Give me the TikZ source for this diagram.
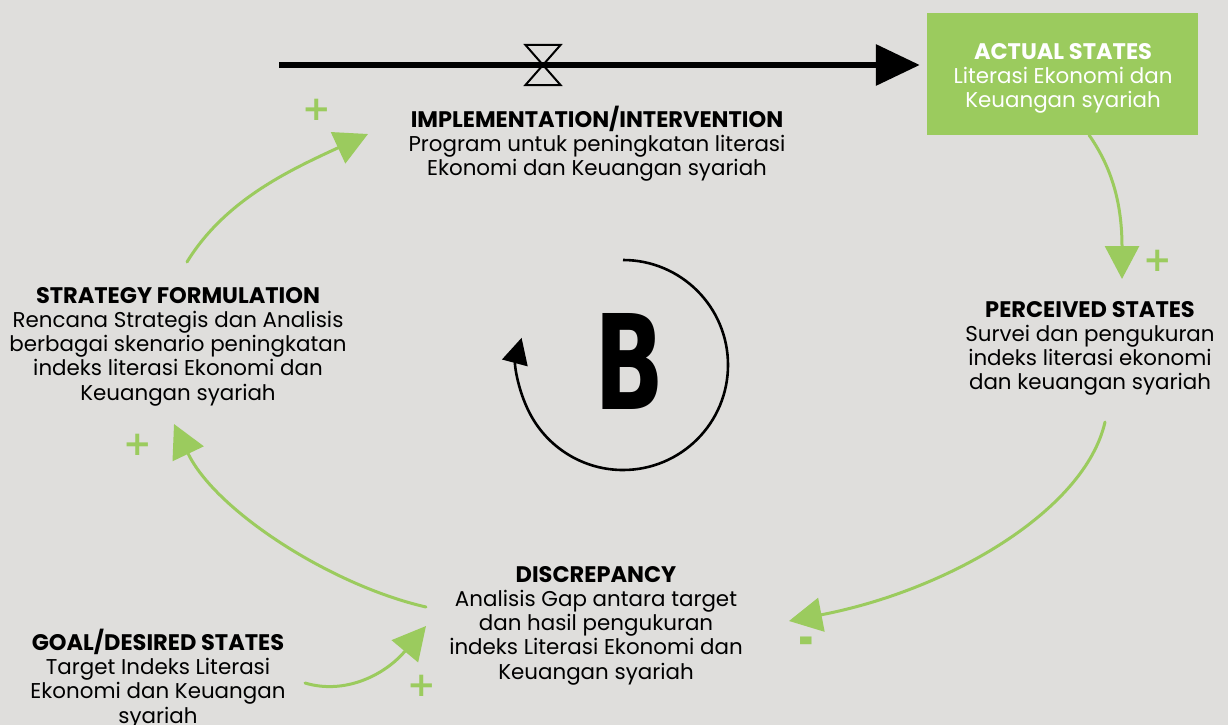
\documentclass[tikz,border=0pt]{standalone}
\usepackage{fontspec}
\usepackage{graphicx}
\setmainfont{Poppins}
\newfontfamily\heavyfont{DejaVu Sans}
\usetikzlibrary{arrows.meta}
\definecolor{paper}{RGB}{223,222,220}
\definecolor{leaf}{RGB}{155,203,94}
\newcommand{\hd}[1]{{\bfseries\fontsize{22.5}{24.2}\selectfont #1}}

\begin{document}
\begin{tikzpicture}[x=1pt,y=-1pt,
  block/.style={align=center, inner sep=0pt, anchor=north,
    font=\fontsize{21.4}{24.2}\selectfont},
  link/.style={draw=leaf, line width=3pt, line cap=round,
    -{Triangle[length=33pt,width=34pt,fill=leaf]}},
  sign/.style={text=leaf, inner sep=0pt,
    font=\heavyfont\bfseries\fontsize{34}{34}\selectfont},
  flowline/.style={line width=6.5pt, -{Triangle[length=44pt,width=40pt]}},
  valveshape/.style={line width=2pt, line join=miter},
  loopline/.style={line width=2.6pt, -{Triangle[length=26pt,width=26pt]}}
]
% canvas
\fill[paper] (0,0) rectangle (1228,725);
\useasboundingbox (0,0) rectangle (1228,725);

% stock: actual states
\node[fill=leaf, minimum width=271pt, minimum height=122pt, inner sep=0pt]
  (actual) at (1062.5,74) {};
\node[block, text=white] (actualtxt) at (1063,43)
  {\hd{ACTUAL STATES}\\Literasi Ekonomi dan\\Keuangan syariah};

% inflow with valve
\coordinate (src) at (279,65);
\coordinate (valve) at (543,65);
\draw[flowline] (src) -- ([xshift=-7pt]src -| actual.west);
\draw[valveshape] (valve) ++(-17.5,-20) -- ++(35,0) -- ++(-35,40) -- ++(35,0) -- cycle;

% text blocks
\node[block] (impl) at (597,106)
  {\hd{IMPLEMENTATION/INTERVENTION}\\Program untuk peningkatan literasi\\Ekonomi dan Keuangan syariah};
\node[block] (strategy) at (178,287)
  {\hd{STRATEGY FORMULATION}\\Rencana Strategis dan Analisis\\berbagai skenario peningkatan\\indeks literasi Ekonomi dan\\Keuangan syariah};
\node[block] (perceived) at (1090,301)
  {\hd{PERCEIVED STATES}\\Survei dan pengukuran\\indeks literasi ekonomi\\dan keuangan syariah};
\node[block] (discrepancy) at (596,566)
  {\hd{DISCREPANCY}\\Analisis Gap antara target\\dan hasil pengukuran\\indeks Literasi Ekonomi dan\\Keuangan syariah};
\node[block] (goal) at (158,629)
  {\hd{GOAL/DESIRED STATES}\\Target Indeks Literasi\\Ekonomi dan Keuangan\\syariah};

% connector end points
\coordinate (a1s) at (1089,135);  \coordinate (a1e) at (1122,279);
\coordinate (a2s) at (1105,422);  \coordinate (a2e) at (789,621);
\coordinate (a3s) at (426,607);   \coordinate (a3e) at (174,424);
\coordinate (a4s) at (187,262);   \coordinate (a4e) at (368,134);
\coordinate (a5s) at (305,683);   \coordinate (a5e) at (426,626);

% causal links
\draw[link] (a1s) .. controls (1110,165) and (1122,200) .. (a1e);
\draw[link] (a2s) .. controls (1085,510) and (950,590) .. (a2e);
\draw[link] (a3s) .. controls (330,585) and (215,510) .. (a3e);
\draw[link] (a4s) .. controls (225,200) and (290,170) .. (a4e);
\draw[link] (a5s) .. controls (345,695) and (385,675) .. (a5e);

% polarities
\node[sign] (s1) at (1158,261) {+};
\node[sign] (s2) at (806,646.5) {\scalebox{1.1}[1.6]{-}};
\node[sign] (s3) at (137.5,445) {+};
\node[sign] (s4) at (317,109.5) {+};
\node[sign] (s5) at (421.5,685.5) {+};

% balancing loop marker
\coordinate (looptop) at (623,260);
\draw[loopline] (looptop) arc[start angle=-90, end angle=195, radius=105];
\node[inner sep=0pt] (loopB) at (630,361)
  {\resizebox{70pt}{96pt}{\heavyfont\bfseries B}};
\end{tikzpicture}
\end{document}
